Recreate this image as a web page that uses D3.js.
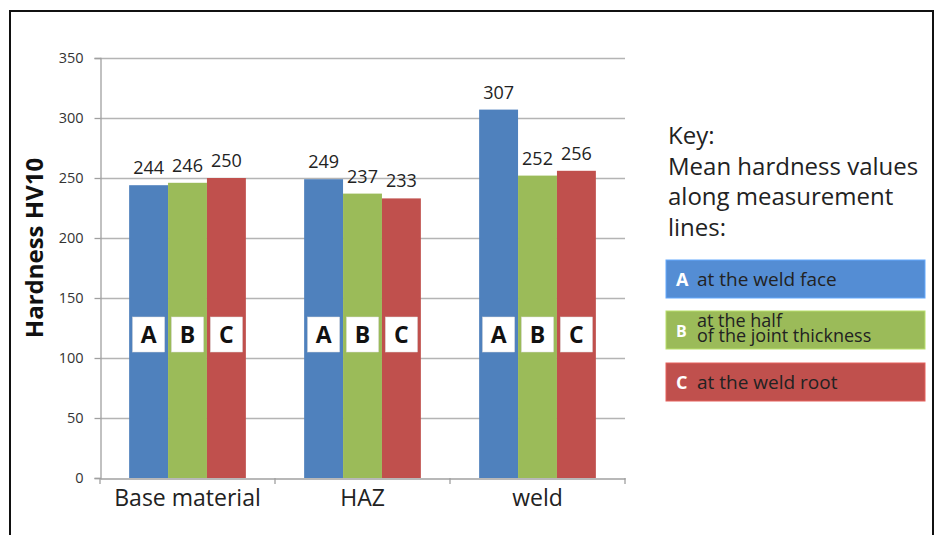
<!DOCTYPE html>
<html><head><meta charset="utf-8">
<script src="https://cdn.jsdelivr.net/npm/d3@7"></script>
<style>body{margin:0;background:#fff}svg{display:block}</style>
</head><body>
<svg id="c" width="938" height="535"></svg>
<script>
const categories = ["Base material", "HAZ", "weld"];
const seriesKeys = ["A", "B", "C"];
const valuesA = [244, 249, 307];
const valuesB = [246, 237, 252];
const valuesC = [250, 233, 256];
const yTicks = [0, 50, 100, 150, 200, 250, 300, 350];
const legendLabels = [["at the weld face"], ["at the half", "of the joint thickness"], ["at the weld root"]];
const keyLines = ["Key:", "Mean hardness values", "along measurement", "lines:"];
const colors = ["#4F81BD", "#9BBB59", "#C0504D"];
const legendColors = ["#548DD4", "#9BBB59", "#C0504D"];

const series = [valuesA, valuesB, valuesC];
const svg = d3.select("#c");
const font = "'Open Sans', 'Noto Sans', sans-serif";

// frame
svg.append("rect").attr("x", 10).attr("y", 11).attr("width", 923).attr("height", 540)
  .attr("fill", "none").attr("stroke", "#111").attr("stroke-width", 2);

const x0 = d3.scaleBand().domain(categories).range([100, 625]).paddingInner(0.333).paddingOuter(0.1665);
const x1 = d3.scaleBand().domain(seriesKeys).range([0, x0.bandwidth()]);
const y = d3.scaleLinear().domain([0, 350]).range([478, 58]);

// grid
svg.append("g").selectAll("line").data(yTicks.filter(d => d > 0)).join("line")
  .attr("x1", 100).attr("x2", 625).attr("y1", d => y(d) + 0.5).attr("y2", d => y(d) + 0.5)
  .attr("stroke", "#b4b4b4").attr("stroke-width", 1.3);

// y axis
const yAx = svg.append("g").attr("transform", "translate(100.5,0)")
  .call(d3.axisLeft(y).tickValues(yTicks).tickSize(6).tickPadding(11));
yAx.select(".domain").attr("stroke", "#a0a0a0").attr("stroke-width", 1.3);
yAx.selectAll(".tick line").attr("stroke", "#a0a0a0").attr("stroke-width", 1.3);
yAx.selectAll(".tick text").attr("font-family", font).attr("font-size", 14.5).attr("fill", "#333");

// x axis
const xAx = svg.append("g").attr("transform", "translate(0,478.5)")
  .call(d3.axisBottom(x0).tickSize(0).tickPadding(0));
xAx.select(".domain").attr("stroke", "#a0a0a0").attr("stroke-width", 1.3);
xAx.selectAll(".tick text").attr("font-family", font).attr("font-size", 23).attr("fill", "#222")
  .attr("dy", null).attr("y", 27.5);
svg.append("g").selectAll("line").data(d3.range(categories.length + 1)).join("line")
  .attr("x1", i => 100 + i * (525 / categories.length)).attr("x2", i => 100 + i * (525 / categories.length))
  .attr("y1", 478).attr("y2", 484).attr("stroke", "#a0a0a0").attr("stroke-width", 1.3);

// bars
const groups = svg.append("g").selectAll("g").data(categories).join("g")
  .attr("transform", c => `translate(${x0(c)},0)`);
groups.each(function(c, ci) {
  const g = d3.select(this);
  seriesKeys.forEach((k, si) => {
    const v = series[si][ci];
    const bx = x1(k), bw = x1.bandwidth();
    g.append("rect").attr("x", bx).attr("y", y(v)).attr("width", bw).attr("height", y(0) - y(v))
      .attr("fill", colors[si]);
    g.append("text").attr("x", bx + bw / 2).attr("y", y(v) - 11).attr("text-anchor", "middle")
      .attr("font-family", font).attr("font-size", 18).attr("fill", "#222").text(v);
    g.append("rect").attr("x", bx + bw / 2 - 16).attr("y", 317).attr("width", 32).attr("height", 35)
      .attr("fill", "#fff").attr("stroke", "#ddd").attr("stroke-width", 0.5);
    g.append("text").attr("x", bx + bw / 2).attr("y", 343).attr("text-anchor", "middle")
      .attr("font-family", font).attr("font-weight", "bold").attr("font-size", 23).attr("fill", "#111").text(k);
  });
});

// y title
svg.append("text").attr("transform", "translate(43,248) rotate(-90)").attr("text-anchor", "middle")
  .attr("font-family", font).attr("font-weight", "bold").attr("font-size", 24).attr("fill", "#111")
  .text("Hardness HV10");

// key text
svg.append("g").selectAll("text").data(keyLines).join("text")
  .attr("x", 668).attr("y", (d, i) => 144 + i * 30.7)
  .attr("font-family", font).attr("font-size", 24).attr("fill", "#222").text(d => d);

// legend boxes
const ly = [260, 311, 363];
seriesKeys.forEach((k, i) => {
  const g = svg.append("g").attr("transform", `translate(666,${ly[i]})`);
  g.append("rect").attr("width", 259).attr("height", 38).attr("fill", legendColors[i])
    .attr("stroke", d3.color(legendColors[i]).brighter(0.5)).attr("stroke-width", 1);
  const lines = legendLabels[i];
  if (lines.length === 1) {
    g.append("text").attr("x", 10).attr("y", 26).attr("font-family", font).attr("font-weight", "bold")
      .attr("font-size", 18).attr("fill", "#fff").text(k);
    g.append("text").attr("x", 31).attr("y", 26).attr("font-family", font).attr("font-size", 19)
      .attr("fill", "#222").text(lines[0]);
  } else {
    g.append("text").attr("x", 10).attr("y", 26).attr("font-family", font).attr("font-weight", "bold")
      .attr("font-size", 16).attr("fill", "#fff").text(k);
    lines.forEach((t, j) => g.append("text").attr("x", 31).attr("y", 16 + j * 15)
      .attr("font-family", font).attr("font-size", 18).attr("fill", "#222").text(t));
  }
});
</script>
</body></html>
